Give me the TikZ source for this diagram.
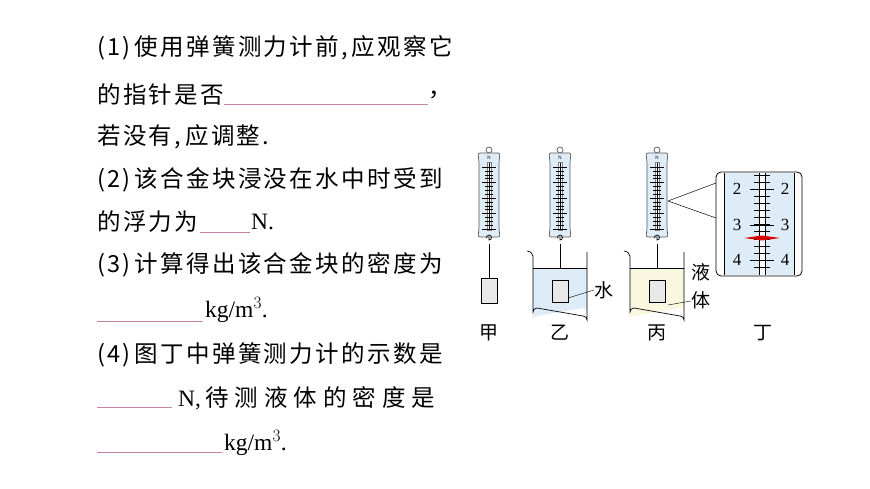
\documentclass[tikz,border=0pt]{standalone}
\usepackage{fontspec}
\newfontfamily\cjk[LetterSpace=10]{Noto Sans CJK SC}
\setmainfont{Liberation Serif}
\begin{document}
\begin{tikzpicture}[x=1pt,y=-1pt,
  txt/.style={anchor=west,inner sep=0pt,font=\fontsize{23.5}{23.5}\selectfont},
  blank/.style={draw={rgb,255:red,200;green,130;blue,170},line width=0.8pt},
  lab/.style={inner sep=0pt,font=\cjk\fontsize{19}{19}\selectfont}]
\useasboundingbox (0,0) rectangle (870,489);
\definecolor{mblue}{RGB}{222,236,248}
\definecolor{liq}{RGB}{250,247,225}
\definecolor{blk}{RGB}{232,232,232}
% text
\node[txt] (l1) at (97,48) {\cjk (1)\,使用弹簧测力计前,\,应观察它};
\node[txt] (l2) at (97,95) {\cjk 的指针是否};
\draw[blank] (224,104) -- (428,104);
\node[txt] (l2b) at (428,95) {\cjk ，};
\node[txt] (l3) at (97,137) {\cjk 若没有,\,应调整.};
\node[txt] (l4) at (97,180) {\cjk (2)\,该合金块浸没在水中时受到};
\node[txt] (l5) at (97,222) {\cjk 的浮力为};
\draw[blank] (200,232) -- (250,232);
\node[txt] (l5b) at (251,222) {N.};
\node[txt] (l6) at (97,265) {\cjk (3)\,计算得出该合金块的密度为};
\draw[blank] (97,321) -- (203,321);
\node[txt] (l7) at (205,310) {kg/m$^3$.};
\node[txt] (l8) at (97,355) {\cjk (4)\,图丁中弹簧测力计的示数是};
\draw[blank] (97,407) -- (172,407);
\node[txt] (l9) at (178,398) {N,\hspace{4pt}{\cjk 待}\hspace{6pt}{\cjk 测}\hspace{6pt}{\cjk 液}\hspace{6pt}{\cjk 体}\hspace{6pt}{\cjk 的}\hspace{6pt}{\cjk 密}\hspace{6pt}{\cjk 度}\hspace{6pt}{\cjk 是}};
\draw[blank] (97,452) -- (222,452);
\node[txt] (l10) at (224,443) {kg/m$^3$.};
% meters
\foreach \cx/\nm in {489/a,560/b,657/c}{
  \draw[gray!80!black,line width=0.8pt] (\cx,150) circle (3);
  \draw[fill=mblue,draw=gray!70!black,line width=0.7pt,rounded corners=2] (\cx-11,153) -- (\cx+11,153) -- (\cx+10,162) -- (\cx+10,229) -- (\cx+11,237) -- (\cx-11,237) -- (\cx-10,229) -- (\cx-10,162) -- cycle;
  \node[inner sep=0pt,font=\fontsize{5}{5}\selectfont] at (\cx,158) {N};
  \draw[fill=white,draw=gray] (\cx-2,162) rectangle (\cx+2,230);
  \draw[line width=0.8pt] (\cx,163) -- (\cx,229);
  \foreach \t in {0,...,15}{\draw[line width=0.3pt] (\cx-4,167+\t*3.875) -- (\cx+4,167+\t*3.875);}
  \foreach \t in {0,...,4}{\draw[line width=0.5pt] (\cx-7,167+\t*15.5) -- (\cx+7,167+\t*15.5);}
  \draw[line width=0.7pt] (\cx,237) -- (\cx,240) arc (90:-200:2.5);
  \draw[line width=0.5pt] (\cx,244) -- (\cx,280);
}
% block a
\draw[fill=blk] (481,278) rectangle (497,303);
% beakers
\foreach \cx/\col in {560/mblue,657/liq}{
  \fill[\col] (\cx-27,268) -- (\cx+27,268) -- (\cx+27,312) arc (0:-90:4) -- (\cx-23,316) arc (270:180:4) -- cycle;
  \draw[line width=0.7pt] (\cx-33,251) .. controls (\cx-29,252) .. (\cx-27,256) -- (\cx-27,312) arc (180:270:4) -- (\cx+23,316) arc (270:360:4) -- (\cx+27,252);
  \draw[line width=0.4pt] (\cx-27,268) -- (\cx+27,268);
  \draw[fill=blk] (\cx-8,280) rectangle (\cx+8,302);
}
% labels
\node[lab] (shui) at (604,290) {水};
\draw (568,298) -- (594,290);
\node[lab] (ye) at (701,272) {液};
\node[lab] (ti) at (701,300) {体};
\draw (668,305) -- (691,301);
\foreach \x/\s in {489/甲,560/乙,657/丙,763/丁}{\node[lab] at (\x,333) {\s};}
% inset
\draw[line width=0.8pt,fill=white,rounded corners=5] (716,172) rectangle (802,276);
\fill[mblue] (724,173) rectangle (794,275);
\draw[line width=0.6pt] (724,173) -- (724,275) (794,173) -- (794,275);
\fill[white] (759,173) rectangle (765,275);
\draw[line width=0.6pt] (759,173) -- (759,275) (765,173) -- (765,275);
\foreach \t in {-2,...,11}{\draw[line width=0.4pt] (754,189+\t*7.1) -- (770,189+\t*7.1);}
\foreach \y/\n in {189/2,225/3,260/4}{
  \draw[line width=0.5pt] (750,\y) -- (774,\y);
  \node[inner sep=0pt,font=\fontsize{17}{17}\selectfont] at (737,\y) {\n};
  \node[inner sep=0pt,font=\fontsize{17}{17}\selectfont] at (785,\y) {\n};}
\fill[red!85!black] (744,238) -- (762,235.5) -- (780,238) -- (762,240.5) -- cycle;
\draw[line width=0.5pt] (668,201) -- (716,183) (668,201) -- (716,218);
\end{tikzpicture}
\end{document}
